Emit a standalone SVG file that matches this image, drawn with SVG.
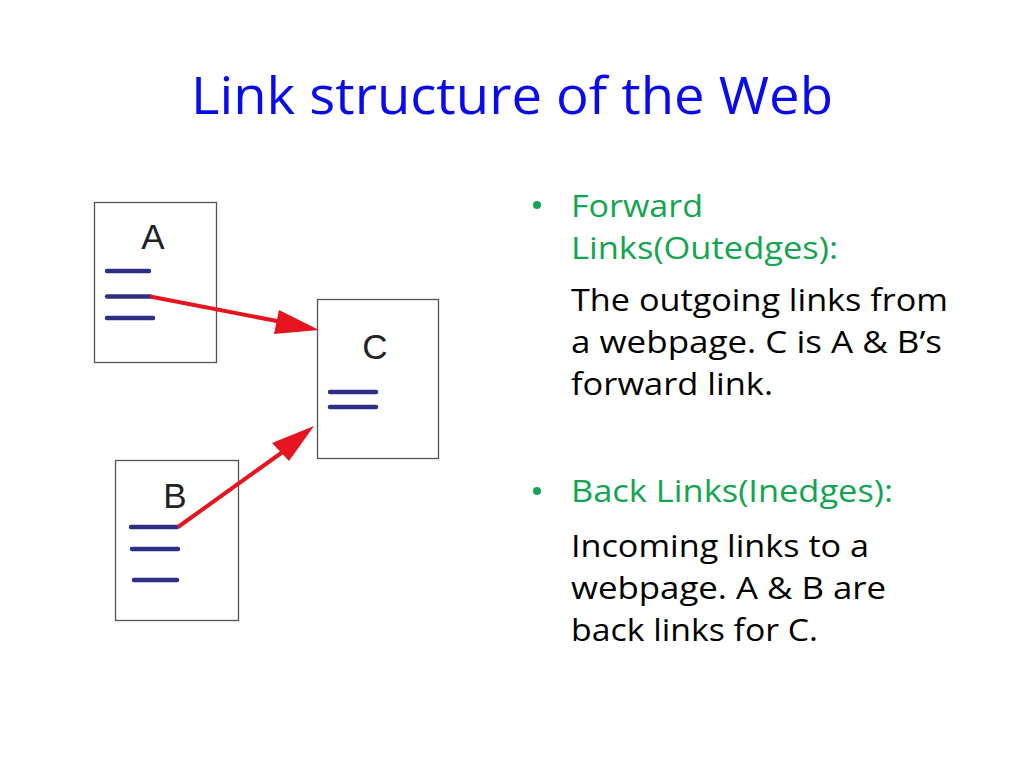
<svg xmlns="http://www.w3.org/2000/svg" width="1024" height="768" viewBox="0 0 1024 768">
<defs>
<style>
.page{fill:#ffffff;stroke:#555555;stroke-width:1.3}
.ln{stroke:#2e2e86;stroke-width:4.5;stroke-linecap:round}
.lbl{font-family:"Liberation Sans",Arial,sans-serif;font-size:35px;fill:#222222;text-anchor:middle}
.arr{stroke:#e5141e;stroke-width:4;fill:none}
.head{fill:#e5141e}
.t{font-family:"Open Sans","Noto Sans",sans-serif;font-size:30.5px}
.g{fill:#12a550}
.k{fill:#000000}
.title{font-family:"Open Sans","Noto Sans",sans-serif;font-size:51px;fill:#0a0af0}
</style>
</defs>
<rect width="1024" height="768" fill="#ffffff"/>
<text class="title" x="191" y="114" textLength="642" lengthAdjust="spacingAndGlyphs">Link structure of the Web</text>

<g id="nodeA">
<rect class="page" x="94.5" y="202.5" width="122" height="160"/>
<text class="lbl" x="153" y="249">A</text>
<line class="ln" x1="107" y1="271" x2="149" y2="271"/>
<line class="ln" x1="107" y1="296.5" x2="150" y2="296.5"/>
<line class="ln" x1="107" y1="318" x2="153" y2="318"/>
</g>

<g id="nodeC">
<rect class="page" x="317.5" y="299.5" width="121" height="159"/>
<text class="lbl" x="375" y="359">C</text>
<line class="ln" x1="330" y1="392" x2="376" y2="392"/>
<line class="ln" x1="330" y1="407" x2="376" y2="407"/>
</g>

<g id="nodeB">
<rect class="page" x="115.5" y="460.5" width="123" height="160"/>
<text class="lbl" x="175" y="508">B</text>
<line class="ln" x1="131" y1="527" x2="177" y2="527"/>
<line class="ln" x1="132" y1="549" x2="178" y2="549"/>
<line class="ln" x1="134" y1="580" x2="177" y2="580"/>
</g>

<g id="connectors">
<line class="arr" x1="150" y1="296.5" x2="282" y2="322"/>
<polygon class="head" points="319,330 274,334 279,310"/>
<line class="arr" x1="178" y1="527" x2="284" y2="451"/>
<polygon class="head" points="314,426 289,461 272,443"/>
</g>

<g id="text">
<circle cx="537" cy="205" r="4" fill="#12a550"/>
<text class="t g" x="571" y="217" textLength="132" lengthAdjust="spacingAndGlyphs">Forward</text>
<text class="t g" x="571" y="259" textLength="267" lengthAdjust="spacingAndGlyphs">Links(Outedges):</text>
<text class="t k" x="571" y="311" textLength="377" lengthAdjust="spacingAndGlyphs">The outgoing links from</text>
<text class="t k" x="571" y="353" textLength="371" lengthAdjust="spacingAndGlyphs">a webpage. C is A &amp; B’s</text>
<text class="t k" x="571" y="395" textLength="202" lengthAdjust="spacingAndGlyphs">forward link.</text>
<circle cx="537" cy="491" r="4" fill="#12a550"/>
<text class="t g" x="571" y="502" textLength="322" lengthAdjust="spacingAndGlyphs">Back Links(Inedges):</text>
<text class="t k" x="571" y="557" textLength="298" lengthAdjust="spacingAndGlyphs">Incoming links to a</text>
<text class="t k" x="571" y="599" textLength="315" lengthAdjust="spacingAndGlyphs">webpage. A &amp; B are</text>
<text class="t k" x="571" y="641" textLength="247" lengthAdjust="spacingAndGlyphs">back links for C.</text>
</g>
</svg>
